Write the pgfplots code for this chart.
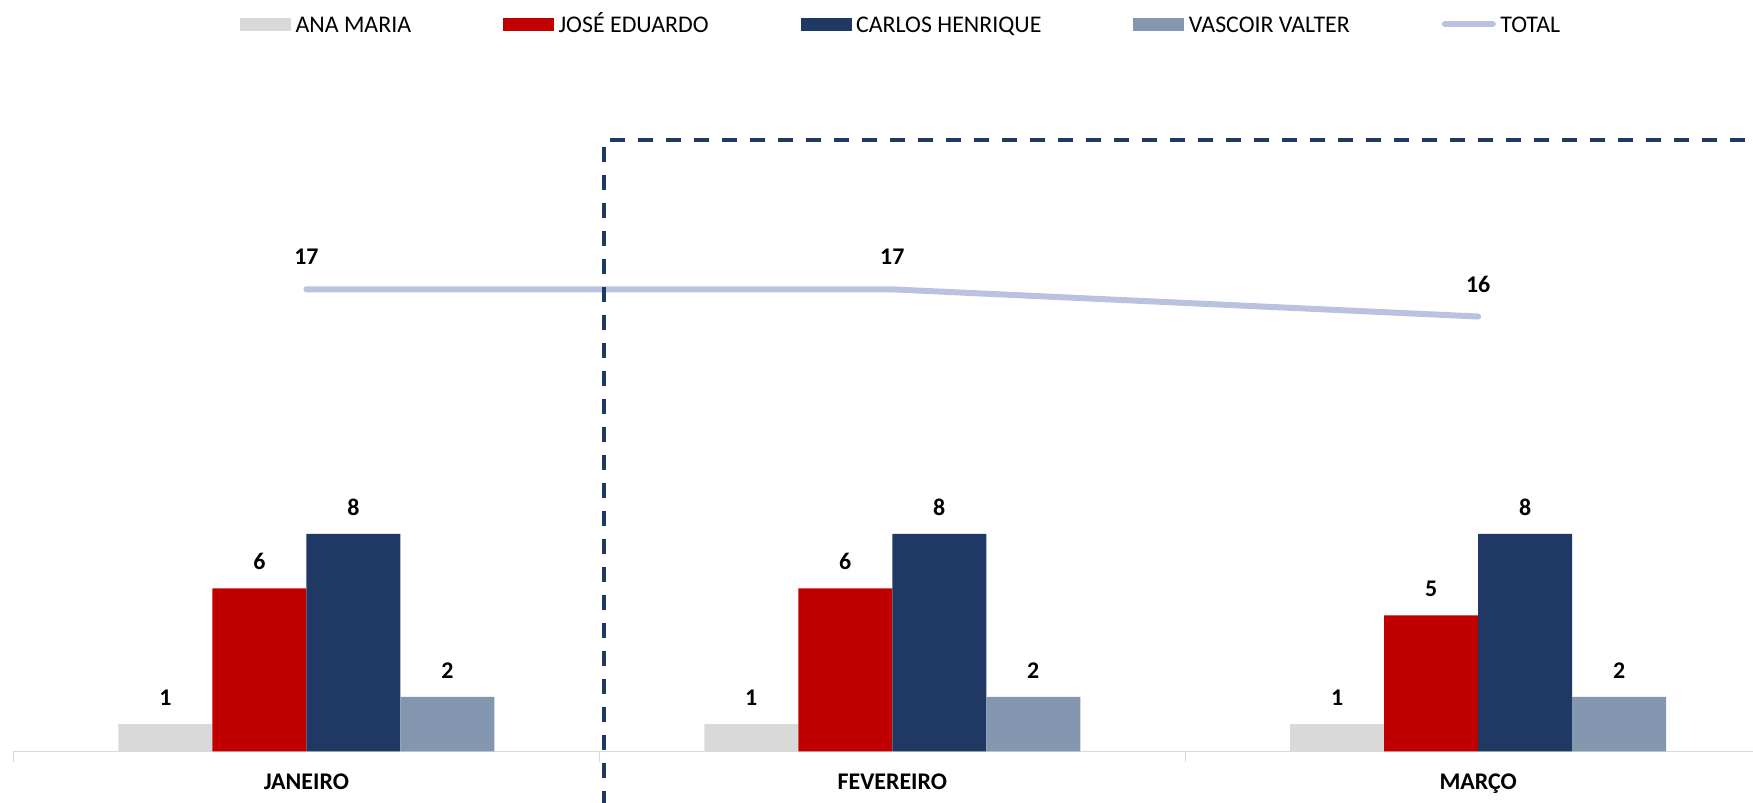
\documentclass[border=0pt]{standalone}
\usepackage{fontspec}
\setmainfont{Carlito}
\usepackage{pgfplots}
\pgfplotsset{compat=1.18}
\definecolor{ana}{HTML}{D9D9D9}
\definecolor{jose}{HTML}{C00000}
\definecolor{carlos}{HTML}{203864}
\definecolor{vasc}{HTML}{8497B0}
\definecolor{total}{HTML}{B9C3E1}
\definecolor{navy}{HTML}{1F3864}
\begin{document}
\begin{tikzpicture}
\path[use as bounding box] (0,0) rectangle (175.3mm,80.3mm);
\begin{axis}[
  at={(1.34mm,5.17mm)}, anchor=south west,
  scale only axis, width=173.96mm, height=75.13mm,
  xmin=-0.5, xmax=2.469, ymin=0, ymax=27.65,
  clip=false,
  axis x line=bottom, axis y line=none,
  axis line style={-, draw=ana, line width=0.15mm},
  xtick={0,1,2}, xticklabels={JANEIRO,FEVEREIRO,MARÇO},
  major tick length=0pt,
  minor xtick={-0.5,0.5,1.5,2.5},
  minor tick length=1.1mm, tick align=outside,
  minor tick style={draw=ana, line width=0.15mm},
  xticklabel style={font=\fontsize{6.8}{8}\selectfont\bfseries, anchor=base, yshift=-3.85mm},
  /pgf/number format/assume math mode=true,
  nodes near coords,
  every node near coord/.append style={font=\fontsize{6.8}{8}\selectfont\bfseries, anchor=base, text=black},
  legend style={at={(0.511,0.968)}, anchor=center, draw=none, fill=none,
    font=\fontsize{6.8}{8}\selectfont, nodes={inner xsep=0.45mm, text height=2.3mm, text depth=0.55mm},
    /tikz/every even column/.append style={column sep=8.75mm}},
  legend columns=5,
  legend cell align=left,
]
\addplot[ybar, bar width=9.4mm, bar shift=-14.1mm, fill=ana, draw=none,
  every node near coord/.append style={yshift=1.85mm, xshift=-14.1mm},
  legend image code/.code={\fill[ana] (0mm,-0.65mm) rectangle (5.1mm,0.65mm);}]
  coordinates {(0,1) (1,1) (2,1)};
\addlegendentry{ANA MARIA}
\addplot[ybar, bar width=9.4mm, bar shift=-4.7mm, fill=jose, draw=none,
  every node near coord/.append style={yshift=1.85mm, xshift=-4.7mm},
  legend image code/.code={\fill[jose] (0mm,-0.65mm) rectangle (5.1mm,0.65mm);}]
  coordinates {(0,6) (1,6) (2,5)};
\addlegendentry{JOSÉ EDUARDO}
\addplot[ybar, bar width=9.4mm, bar shift=4.7mm, fill=carlos, draw=none,
  every node near coord/.append style={yshift=1.85mm, xshift=4.7mm},
  legend image code/.code={\fill[carlos] (0mm,-0.65mm) rectangle (5.1mm,0.65mm);}]
  coordinates {(0,8) (1,8) (2,8)};
\addlegendentry{CARLOS HENRIQUE}
\addplot[ybar, bar width=9.4mm, bar shift=14.1mm, fill=vasc, draw=none,
  every node near coord/.append style={yshift=1.85mm, xshift=14.1mm},
  legend image code/.code={\fill[vasc] (0mm,-0.65mm) rectangle (5.1mm,0.65mm);}]
  coordinates {(0,2) (1,2) (2,2)};
\addlegendentry{VASCOIR VALTER}
\addplot[color=total, line width=0.6mm, line cap=round, mark=none,
  every node near coord/.append style={yshift=2.45mm},
  legend image code/.code={\draw[total, line width=0.6mm, line cap=round] (0.3mm,0) -- (5.1mm,0);}]
  coordinates {(0,17) (1,17) (2,16)};
\addlegendentry{TOTAL}
\draw[navy, line width=0.4mm, dash pattern=on 1.5mm off 1.3mm]
  (axis cs:0.508,-2) -- (axis cs:0.508,22.5) -- (axis cs:2.6,22.5);
\end{axis}
\end{tikzpicture}
\end{document}
